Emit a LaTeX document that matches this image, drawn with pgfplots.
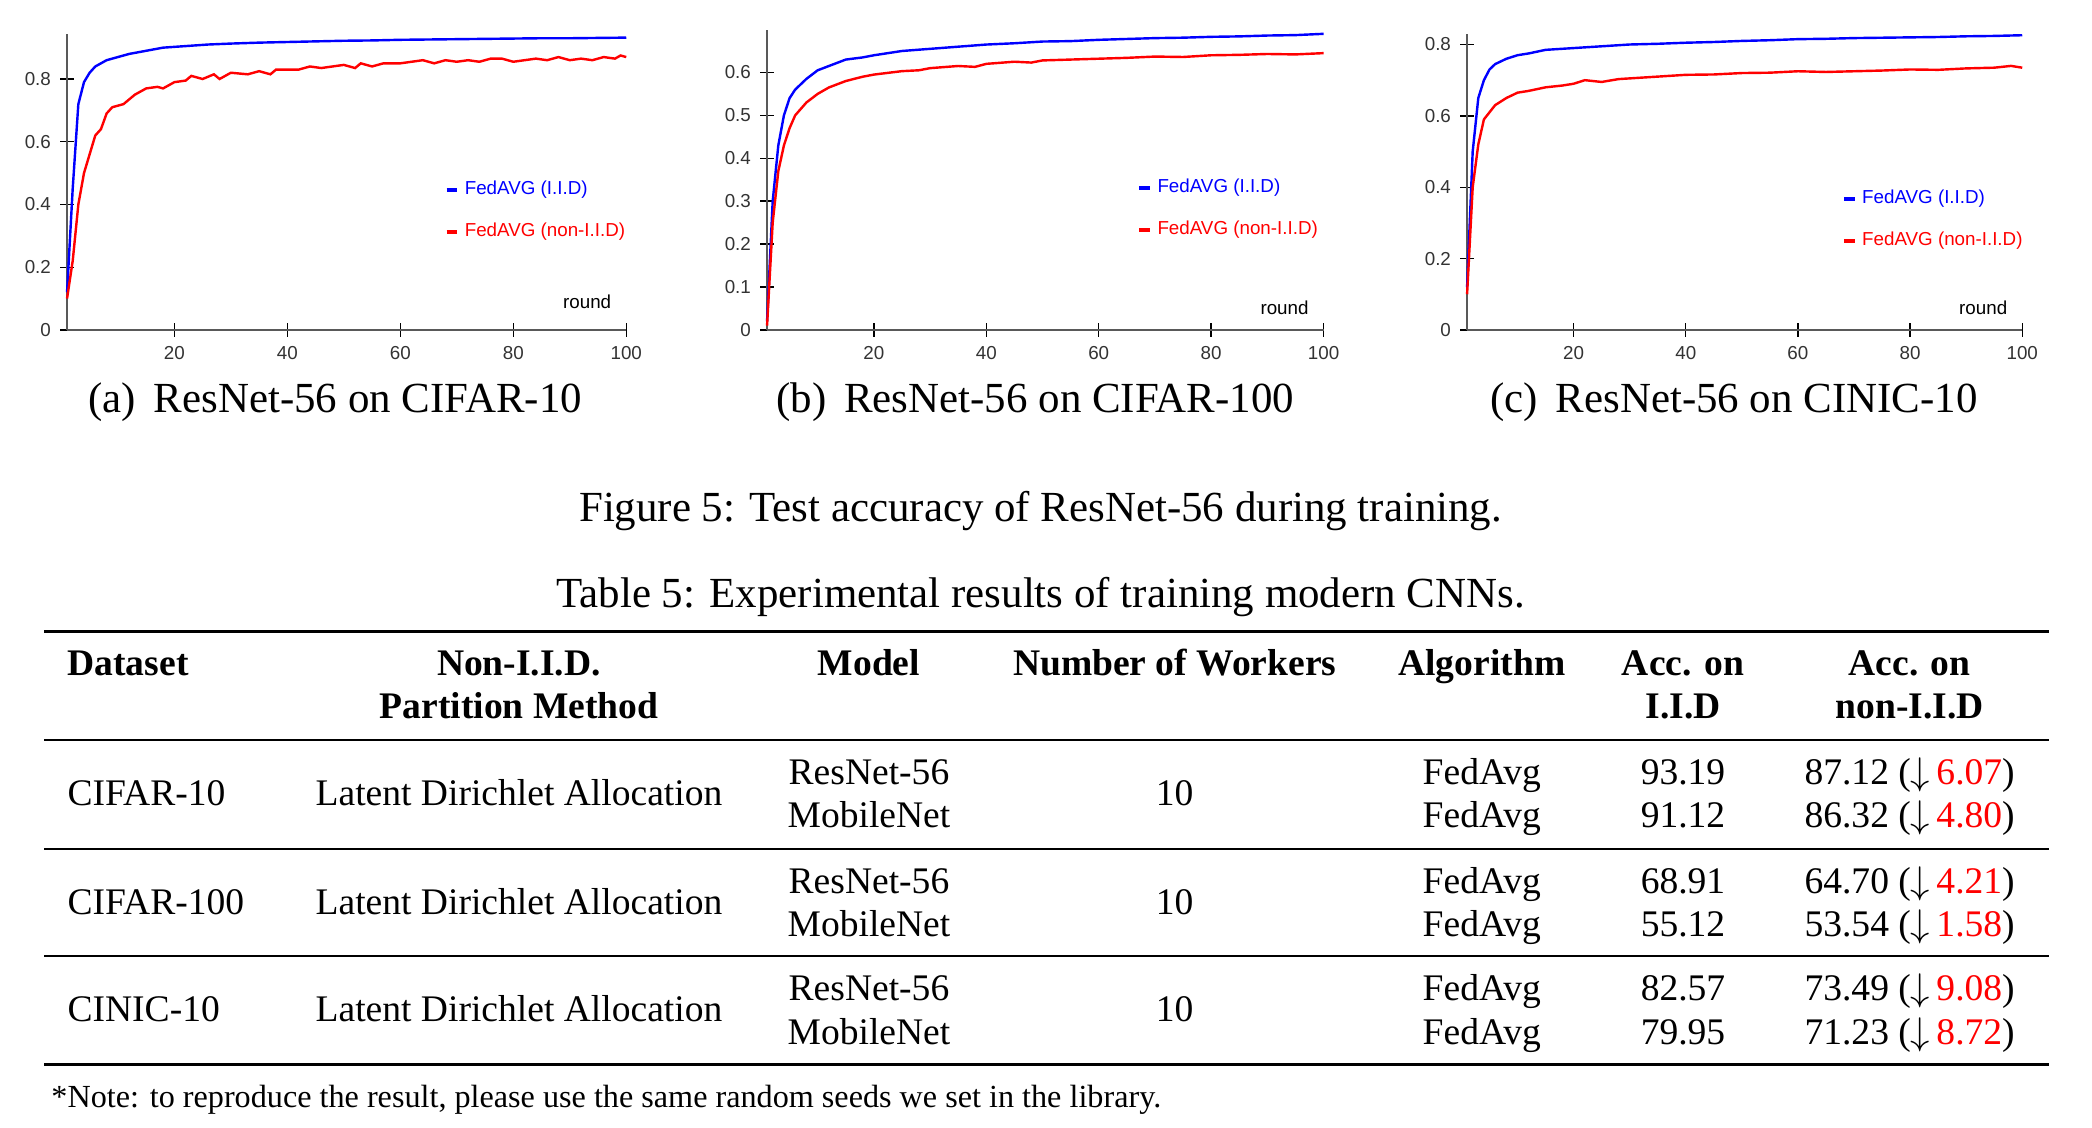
\documentclass[border=0pt]{standalone}
\usepackage{pgfplots}
\pgfplotsset{compat=1.18}
\usepackage{fontspec}
\setmainfont{Liberation Serif}
\setsansfont{Liberation Sans}
\begin{document}
\begin{tikzpicture}
\path[fill=white] (0pt,0pt) rectangle (780pt,-420.5pt);
\pgfplotsset{
  my/.style={
    scale only axis, xmin=1, xmax=100, ymin=0, anchor=south west,
    axis x line=bottom, axis y line=left,
    axis line style={-, gray!70!black, line width=0.6pt},
    tick style={black, line width=0.5pt}, tick align=center, major tick length=5pt,
    xtick={20,40,60,80,100},
    /pgf/number format/assume math mode=true,
    tick label style={font=\sffamily\fontsize{7}{8}\selectfont, text=black!80},
    legend style={draw=none, fill=none, font=\sffamily\fontsize{7}{8}\selectfont, row sep=5pt},
    legend cell align=left,
    legend image code/.code={\draw[line width=1.5pt] (0.1em,0) -- (0.5em,0);},
    every axis plot/.append style={line width=0.9pt},
    clip=false,
  }
}
% (a)
\begin{axis}[my, at={(25pt,-123pt)}, width=208.5pt, height=110.5pt, ymax=0.945,
  ytick={0,0.2,0.4,0.6,0.8}, yticklabels={0,0.2,0.4,0.6,0.8},
  legend style={at={(0.66,0.54)}, anchor=north west}]
\addplot[blue] coordinates {(1,0.12)(2,0.45)(3,0.72)(4,0.79)(5,0.82)(6,0.84)(8,0.86)(10,0.87)(12,0.88)(15,0.89)(18,0.90)(22,0.905)(26,0.91)(30,0.913)(35,0.916)(40,0.918)(45,0.92)(50,0.922)(55,0.923)(60,0.925)(65,0.926)(70,0.927)(75,0.928)(80,0.929)(85,0.93)(90,0.93)(95,0.931)(100,0.932)};
\addplot[red] coordinates {(1,0.1)(2,0.22)(3,0.4)(4,0.5)(5,0.56)(6,0.62)(7,0.64)(8,0.69)(9,0.71)(11,0.72)(13,0.75)(15,0.77)(17,0.775)(18,0.77)(20,0.79)(22,0.795)(23,0.81)(25,0.80)(27,0.815)(28,0.80)(30,0.82)(33,0.815)(35,0.825)(37,0.815)(38,0.83)(42,0.83)(44,0.84)(46,0.835)(48,0.84)(50,0.845)(52,0.835)(53,0.85)(55,0.84)(57,0.85)(60,0.85)(62,0.855)(64,0.86)(66,0.85)(68,0.86)(70,0.855)(72,0.86)(74,0.855)(76,0.865)(78,0.865)(80,0.855)(82,0.86)(84,0.865)(86,0.86)(88,0.87)(90,0.86)(92,0.865)(94,0.86)(96,0.87)(98,0.865)(99,0.875)(100,0.87)};
\legend{\textcolor{blue}{FedAVG (I.I.D)},\textcolor{red}{FedAVG (non-I.I.D)}}
\node[anchor=south east, font=\sffamily\fontsize{7}{8}\selectfont] at (rel axis cs:0.99,0.04) {round};
\end{axis}
% (b)
\begin{axis}[my, at={(286pt,-123pt)}, width=207.5pt, height=112pt, ymax=0.7,
  ytick={0,0.1,0.2,0.3,0.4,0.5,0.6}, yticklabels={0,0.1,0.2,0.3,0.4,0.5,0.6},
  legend style={at={(0.65,0.54)}, anchor=north west}]
\addplot[blue] coordinates {(1,0.02)(2,0.3)(3,0.43)(4,0.5)(5,0.54)(6,0.56)(8,0.585)(10,0.605)(12,0.615)(15,0.63)(18,0.635)(20,0.64)(25,0.65)(30,0.655)(35,0.66)(40,0.665)(45,0.668)(50,0.672)(55,0.673)(60,0.676)(65,0.678)(70,0.68)(75,0.681)(80,0.683)(85,0.684)(90,0.686)(95,0.687)(100,0.69)};
\addplot[red] coordinates {(1,0.01)(2,0.25)(3,0.37)(4,0.43)(5,0.47)(6,0.5)(8,0.53)(10,0.55)(12,0.565)(15,0.58)(18,0.59)(20,0.595)(25,0.603)(28,0.605)(30,0.61)(35,0.615)(38,0.613)(40,0.62)(45,0.625)(48,0.623)(50,0.628)(55,0.63)(60,0.632)(65,0.634)(70,0.637)(75,0.636)(80,0.64)(85,0.641)(90,0.643)(95,0.642)(100,0.645)};
\legend{\textcolor{blue}{FedAVG (I.I.D)},\textcolor{red}{FedAVG (non-I.I.D)}}
\node[anchor=south east, font=\sffamily\fontsize{7}{8}\selectfont] at (rel axis cs:0.99,0.02) {round};
\end{axis}
% (c)
\begin{axis}[my, at={(547pt,-123pt)}, width=207pt, height=110.4pt, ymax=0.83,
  ytick={0,0.2,0.4,0.6,0.8}, yticklabels={0,0.2,0.4,0.6,0.8},
  legend style={at={(0.66,0.51)}, anchor=north west}]
\addplot[blue] coordinates {(1,0.12)(2,0.5)(3,0.65)(4,0.7)(5,0.73)(6,0.745)(8,0.76)(10,0.77)(12,0.775)(15,0.785)(20,0.79)(25,0.795)(30,0.8)(35,0.802)(40,0.805)(45,0.807)(50,0.81)(55,0.812)(60,0.815)(65,0.816)(70,0.818)(75,0.819)(80,0.82)(85,0.821)(90,0.823)(95,0.824)(100,0.826)};
\addplot[red] coordinates {(1,0.1)(2,0.4)(3,0.52)(4,0.59)(5,0.61)(6,0.63)(8,0.65)(10,0.665)(12,0.67)(15,0.68)(18,0.685)(20,0.69)(22,0.7)(25,0.695)(28,0.703)(30,0.705)(35,0.71)(40,0.715)(45,0.716)(50,0.72)(55,0.721)(60,0.725)(65,0.723)(70,0.725)(75,0.727)(80,0.73)(85,0.729)(90,0.733)(95,0.735)(98,0.74)(100,0.735)};
\legend{\textcolor{blue}{FedAVG (I.I.D)},\textcolor{red}{FedAVG (non-I.I.D)}}
\node[anchor=south east, font=\sffamily\fontsize{7}{8}\selectfont] at (rel axis cs:0.99,0.02) {round};
\end{axis}
\begin{scope}[x=1pt,y=1pt]
% captions
\begin{scope}[every node/.style={font=\fontsize{16}{18}\selectfont, inner sep=0pt}]
\node at (125,-150) {(a)\, ResNet-56 on CIFAR-10};
\node at (386,-150) {(b)\, ResNet-56 on CIFAR-100};
\node at (646.5,-150) {(c)\, ResNet-56 on CINIC-10};
\node at (388,-190.5) {Figure 5: Test accuracy of ResNet-56 during training.};
\node at (388,-222.5) {Table 5: Experimental results of training modern CNNs.};
\end{scope}
% table rules
\draw[line width=1.1pt] (16.5,-235.5) -- (764,-235.5);
\draw[line width=0.7pt] (16.5,-276) -- (764,-276);
\draw[line width=0.7pt] (16.5,-316.5) -- (764,-316.5);
\draw[line width=0.7pt] (16.5,-356.5) -- (764,-356.5);
\draw[line width=1.1pt] (16.5,-397) -- (764,-397);
\begin{scope}[every node/.style={font=\fontsize{14}{16}\selectfont, inner sep=0pt, anchor=base}]
\node[anchor=base west] at (25,-252) {\textbf{Dataset}};
\node at (193.5,-252) {\textbf{Non-I.I.D.}};
\node at (193.5,-268) {\textbf{Partition Method}};
\node at (324,-252) {\textbf{Model}};
\node at (438,-252) {\textbf{Number of Workers}};
\node at (552.5,-252) {\textbf{Algorithm}};
\node at (627.5,-252) {\textbf{Acc. on}};
\node at (627.5,-268) {\textbf{I.I.D}};
\node at (712,-252) {\textbf{Acc. on}};
\node at (712,-268) {\textbf{non-I.I.D}};
\foreach \ds/\yy/\ya/\yb/\ia/\ib/\na/\da/\nb/\db in {
  CIFAR-10/-300.5/-292.5/-308.5/93.19/91.12/87.12/6.07/86.32/4.80,
  CIFAR-100/-341/-333/-349/68.91/55.12/64.70/4.21/53.54/1.58,
  CINIC-10/-381/-373/-389.5/82.57/79.95/73.49/9.08/71.23/8.72}{
  \node[anchor=base west] at (25,\yy) {\ds};
  \node at (193.5,\yy) {Latent Dirichlet Allocation};
  \node at (324,\ya) {ResNet-56};
  \node at (324,\yb) {MobileNet};
  \node at (438,\yy) {10};
  \node at (552.5,\ya) {FedAvg};
  \node at (552.5,\yb) {FedAvg};
  \node at (627.5,\ya) {\ia};
  \node at (627.5,\yb) {\ib};
  \node at (712,\ya) {\na\ ($\downarrow$\,\textcolor{red}{\da})};
  \node at (712,\yb) {\nb\ ($\downarrow$\,\textcolor{red}{\db})};
}
\node[anchor=base west, font=\fontsize{12}{14}\selectfont] at (19,-413) {*Note: to reproduce the result, please use the same random seeds we set in the library.};
\end{scope}
\end{scope}
\end{tikzpicture}
\end{document}
